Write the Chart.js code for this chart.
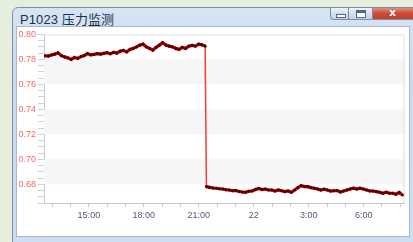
<!DOCTYPE html>
<html>
<head>
<meta charset="utf-8">
<script src="https://cdn.jsdelivr.net/npm/chart.js@4/dist/chart.umd.min.js"></script>
<style>
  html, body { margin: 0; padding: 0; }
  body { width: 413px; height: 242px; overflow: hidden; background: #e6efdd; position: relative; font-family: "Liberation Sans", "Noto Sans CJK SC", sans-serif; }
  .win { position: absolute; left: 12px; top: 7px; width: 410px; height: 245px; box-sizing: border-box;
         border: 1px solid #7d90a8; border-radius: 6px 6px 0 0;
         background: linear-gradient(#d6e5f4, #c6d9ee 30%, #cddff1); }
  .title { position: absolute; left: 20px; top: 9px; font-size: 13px; color: #1f2e48; letter-spacing: 0.1px; }
  .content { position: absolute; left: 16px; top: 26px; width: 394px; height: 211px; box-sizing: border-box;
             background: #fff; border: 1px solid #a9b9cb; }
  #chart { position: absolute; left: 17px; top: 27px; }
  .btn { position: absolute; top: 8px; height: 12px; box-sizing: border-box; border: 1px solid #7a8ea8; border-top: none;
         background: linear-gradient(#eef3f9, #d3dfec 50%, #c3d3e5); }
  .btn.min { left: 330px; width: 19px; border-radius: 0 0 0 4px; }
  .btn.max { left: 349px; width: 24px; border-left: none; }
  .btn.close { left: 373px; width: 42px; border-left: none; background: linear-gradient(#e0907e, #cc4b36 50%, #c0402b); }
  .btn.min i { position: absolute; left: 5px; top: 6px; width: 8px; height: 2px; background: #fff; border: 1px solid #55677f; }
  .btn.max i { position: absolute; left: 7px; top: 2px; width: 8px; height: 6px; border: 1px solid #55677f; box-shadow: inset 0 2px 0 #55677f; background: #fff; }
  .btn.close span { position: absolute; left: 16px; top: -2px; font: bold 11px "DejaVu Sans", sans-serif; color: #fff; text-shadow: 0 0 1px #802010; }
</style>
</head>
<body>
<div class="win"></div>
<div class="title">P1023 压力监测</div>
<div class="btn min"><i></i></div>
<div class="btn max"><i></i></div>
<div class="btn close"><span>x</span></div>
<div class="content"></div>
<canvas id="chart" width="392" height="209"></canvas>
<script>
// pressure readings before the drop (hours since midnight of day 21)
const upperStart = 12.605;
const upperValues = [
  0.7829, 0.7826, 0.7835, 0.7842, 0.7853, 0.7830, 0.7820, 0.7812, 0.7800, 0.7815,
  0.7808, 0.7822, 0.7830, 0.7846, 0.7836, 0.7840, 0.7846, 0.7842, 0.7848, 0.7853,
  0.7845, 0.7856, 0.7850, 0.7866, 0.7872, 0.7860, 0.7880, 0.7888, 0.7900, 0.7914,
  0.7922, 0.7900, 0.7888, 0.7874, 0.7896, 0.7914, 0.7933, 0.7914, 0.7906, 0.7900,
  0.7888, 0.7880, 0.7896, 0.7888, 0.7906, 0.7912, 0.7906, 0.7922, 0.7917, 0.7906
];
// readings after the drop
const lowerStart = 21.416;
const lowerValues = [
  0.6781, 0.6775, 0.6770, 0.6768, 0.6764, 0.6762, 0.6756, 0.6754, 0.6748, 0.6750,
  0.6742, 0.6738, 0.6736, 0.6744, 0.6746, 0.6758, 0.6766, 0.6758, 0.6762, 0.6754,
  0.6754, 0.6746, 0.6754, 0.6748, 0.6741, 0.6746, 0.6736, 0.6754, 0.6773, 0.6789,
  0.6781, 0.6781, 0.6773, 0.6768, 0.6762, 0.6754, 0.6760, 0.6754, 0.6746, 0.6748,
  0.6750, 0.6738, 0.6746, 0.6754, 0.6762, 0.6768, 0.6762, 0.6768, 0.6762, 0.6754,
  0.6746, 0.6746, 0.6741, 0.6736, 0.6728, 0.6736, 0.6728, 0.6728, 0.6720, 0.6734,
  0.6714
];
const sampleStep = 0.1784; // hours between samples

const xMin = 12.55, xMax = 32.23;
const yMin = 0.665, yMax = 0.80;
const bandRanges = [[0.76, 0.78], [0.72, 0.74], [0.68, 0.70]];

function hourLabel(v) {
  const h = Math.round(v);
  if (h % 3 !== 0) return "";
  if (h === 24) return "22";
  return (h % 24) + ":00";
}

const points = upperValues.map((v, i) => ({ x: upperStart + i * sampleStep, y: v }))
  .concat(lowerValues.map((v, i) => ({ x: lowerStart + i * sampleStep, y: v })));

// the jump between the two runs is drawn as a thin bright line
const isJump = (ctx) => Math.abs(ctx.p1.parsed.y - ctx.p0.parsed.y) > 0.05;

const bandsPlugin = {
  id: "bands",
  beforeDatasetsDraw(chart) {
    const { ctx, chartArea, scales } = chart;
    ctx.save();
    ctx.fillStyle = "#f6f6f6";
    bandRanges.forEach(([a, b]) => {
      const y1 = scales.y.getPixelForValue(b);
      const y2 = scales.y.getPixelForValue(a);
      ctx.fillRect(chartArea.left, y1, chartArea.right - chartArea.left, y2 - y1);
    });
    ctx.strokeStyle = "#e0e0e0";
    ctx.lineWidth = 1;
    ctx.beginPath();
    ctx.moveTo(chartArea.left, chartArea.top + 0.5);
    ctx.lineTo(chartArea.right - 0.5, chartArea.top + 0.5);
    ctx.lineTo(chartArea.right - 0.5, chartArea.bottom);
    ctx.stroke();
    ctx.restore();
  }
};

new Chart(document.getElementById("chart"), {
  type: "line",
  data: {
    datasets: [{
      data: points,
      borderColor: "#d80000",
      borderWidth: 3.2,
      pointRadius: 1.3,
      pointBackgroundColor: "#600000",
      pointBorderColor: "#200000",
      pointBorderWidth: 0.5,
      tension: 0,
      segment: {
        borderColor: (ctx) => (isJump(ctx) ? "#ff3838" : undefined),
        borderWidth: (ctx) => (isJump(ctx) ? 1.5 : undefined)
      }
    }]
  },
  options: {
    responsive: false,
    animation: false,
    layout: { padding: { top: 7, right: 1, left: 0, bottom: 0 } },
    plugins: { legend: { display: false }, tooltip: { enabled: false } },
    scales: {
      x: {
        type: "linear",
        min: xMin,
        max: xMax,
        afterFit(scale) { scale.height = 33; },
        grid: { drawOnChartArea: false, tickLength: 4, color: "#c8c8c8" },
        border: { color: "#c8c8c8" },
        ticks: {
          stepSize: 1,
          includeBounds: false,
          autoSkip: false,
          maxRotation: 0,
          padding: 3,
          color: "#4d5b78",
          font: { family: "Liberation Sans", size: 9 },
          callback: hourLabel
        }
      },
      y: {
        min: yMin,
        max: yMax,
        afterFit(scale) { scale.width = 27; },
        grid: { drawOnChartArea: false, tickLength: 6, color: "#d0d0d0" },
        border: { color: "#c8c8c8" },
        ticks: {
          stepSize: 0.005,
          autoSkip: false,
          padding: 2,
          color: "#ff6464",
          font: { family: "Liberation Sans", size: 9 },
          callback: (v) => (Math.round(v * 1000) % 20 === 0 ? v.toFixed(2) : "")
        }
      }
    }
  },
  plugins: [bandsPlugin]
});
</script>
</body>
</html>
